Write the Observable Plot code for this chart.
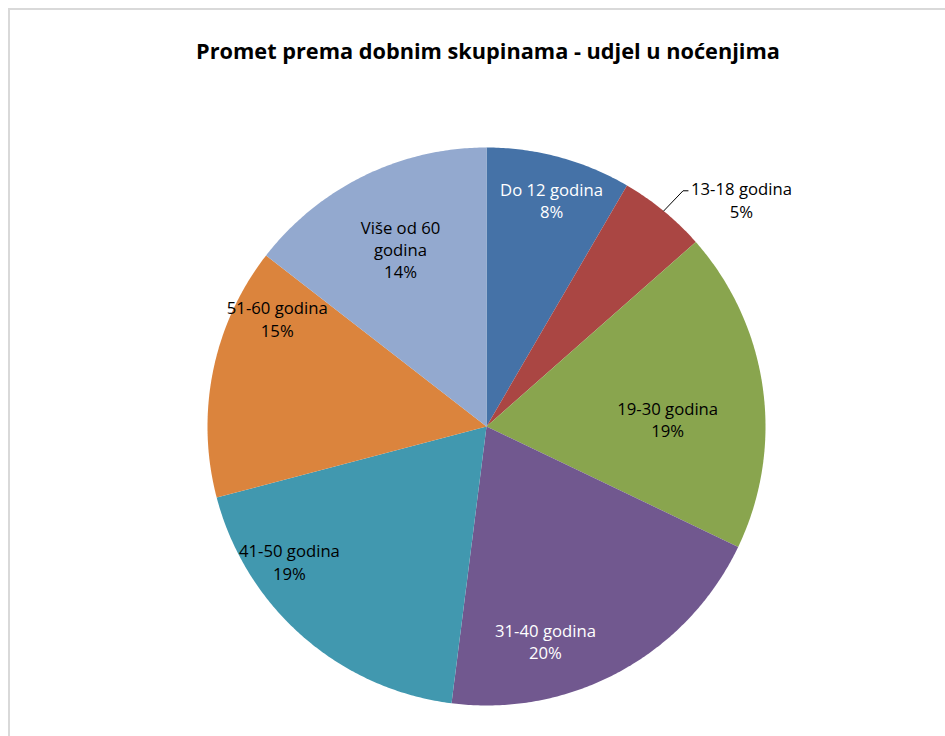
<!DOCTYPE html>
<html><head><meta charset="utf-8">
<script src="https://cdn.jsdelivr.net/npm/d3@7"></script>
<script src="https://cdn.jsdelivr.net/npm/@observablehq/plot@0.6"></script>
<style>
body{margin:0;background:#fff;}
#wrap{position:relative;width:945px;height:736px;overflow:hidden;background:#fff;}
#border{position:absolute;left:8px;top:8px;width:2000px;height:2000px;border-left:2px solid #d9d9d9;border-top:2px solid #d9d9d9;}
#chart{position:absolute;left:0;top:0;}
#title{position:absolute;left:0;width:976px;text-align:center;font-family:"Open Sans",sans-serif;font-weight:bold;color:#000;white-space:nowrap;line-height:1;}
</style></head><body>
<div id="wrap"><div id="border"></div><div id="chart"></div><div id="title"></div></div>
<script>
const title = "Promet prema dobnim skupinama - udjel u noćenjima";
const categories = ["Do 12 godina","13-18 godina","19-30 godina","31-40 godina","41-50 godina","51-60 godina","Više od 60 godina"];
const shares = [8.4, 5.1, 18.6, 19.9, 18.9, 14.6, 14.5];
const percentLabels = ["8%","5%","19%","20%","19%","15%","14%"];
const labelTexts = ["Do 12 godina","13-18 godina","19-30 godina","31-40 godina","41-50 godina","51-60 godina","Više od 60\ngodina"];
const colors = ["#4572A7","#AA4643","#89A54E","#71588F","#4198AF","#DB843D","#93A9CF"];
const textColors = ["#ffffff","#000000","#000000","#ffffff","#000000","#000000","#000000"];
// label layout (polar: degrees clockwise from top, fraction of radius)
const labelAngles = [16, 48.3, 87.5, 164.6, 235.6, 297.3, 334.2];
const labelRadii = [0.846, 1.224, 0.65, 0.796, 0.856, 0.844, 0.708];
const leaderIndex = 1;

const FONT = "'Open Sans', sans-serif";
const ctx = document.createElement("canvas").getContext("2d");
function fitSize(text, weight, target) {
  ctx.font = `${weight} 100px ${FONT}`;
  return 100 * target / ctx.measureText(text).width;
}
const titleSize = fitSize(title, "bold", 584);
const labelSize = fitSize("13-18 godina", "normal", 101);

const titleEl = document.getElementById("title");
titleEl.textContent = title;
titleEl.style.fontSize = titleSize + "px";
titleEl.style.top = (52 - titleSize * 0.55) + "px";

const total = d3.sum(shares);
const toXY = (deg, r) => { const a = deg * Math.PI / 180; return [r * Math.sin(a), r * Math.cos(a)]; };

const slicePts = [];
let cum = 0;
const mids = [];
shares.forEach((s, i) => {
  const a0 = cum / total * 360, a1 = (cum + s) / total * 360;
  mids.push((a0 + a1) / 2);
  slicePts.push({cat: categories[i], u: 0, v: 0});
  const n = Math.max(2, Math.ceil((a1 - a0) / 0.5));
  for (let k = 0; k <= n; k++) {
    const [u, v] = toXY(a0 + (a1 - a0) * k / n, 1);
    slicePts.push({cat: categories[i], u, v});
  }
  slicePts.push({cat: categories[i], u: 0, v: 0});
  cum += s;
});

const labels = categories.map((c, i) => {
  const [u, v] = toXY(labelAngles[i], labelRadii[i]);
  return {cat: c, u, v, text: labelTexts[i] + "\n" + percentLabels[i], color: textColors[i]};
});

const m = mids[leaderIndex];
const p1 = toXY(m, 1.0), p2 = toXY(m + 0.4, 1.1);
const leader = [
  {u: p1[0], v: p1[1]},
  {u: p2[0], v: p2[1]},
  {u: p2[0] + 0.018, v: p2[1]}
];

const W = 945, H = 736, cx = 486, cy = 426, R = 279;
const chart = Plot.plot({
  width: W, height: H,
  margin: 0,
  x: {domain: [-cx / R, (W - cx) / R], axis: null},
  y: {domain: [(cy - H) / R, cy / R], axis: null},
  color: {domain: categories, range: colors},
  style: {background: "transparent", fontFamily: FONT},
  marks: [
    Plot.line(slicePts, {x: "u", y: "v", z: "cat", fill: "cat", stroke: "none"}),
    Plot.line(leader, {x: "u", y: "v", stroke: "#000", strokeWidth: 1}),
    Plot.text(labels, {x: "u", y: "v", text: "text", fill: "color", fontSize: labelSize, lineHeight: 22.3 / labelSize, textAnchor: "middle"})
  ]
});
document.getElementById("chart").appendChild(chart);
</script>
</body></html>
